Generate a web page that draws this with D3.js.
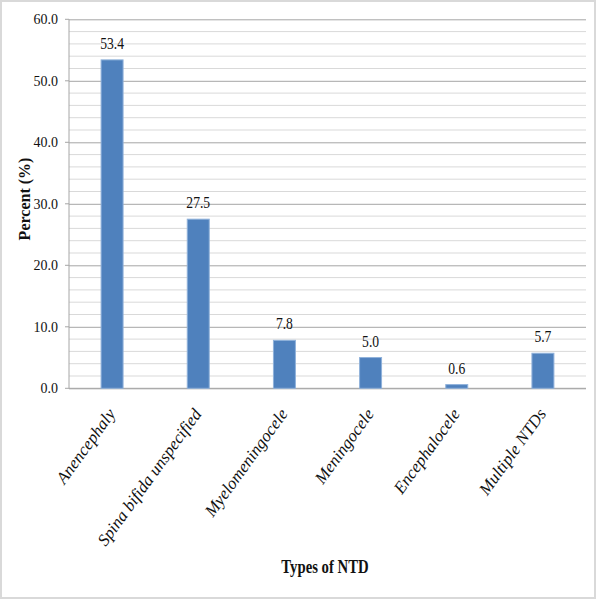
<!DOCTYPE html>
<html>
<head>
<meta charset="utf-8">
<script src="https://cdn.jsdelivr.net/npm/d3@7"></script>
<style>
  body { margin: 0; background: #fff; }
</style>
</head>
<body>
<svg id="chart" width="600" height="600"></svg>
<script>
// chart data
var categories = ["Anencephaly", "Spina bifida unspecified", "Myelomeningocele",
  "Meningocele", "Encephalocele", "Multiple NTDs"];
var percents = [53.4, 27.5, 7.8, 5.0, 0.6, 5.7];
var majorTicks = [0, 10, 20, 30, 40, 50, 60];
var minorTicks = [2, 4, 6, 8, 12, 14, 16, 18, 22, 24, 26, 28, 32, 34, 36, 38, 42, 44, 46, 48, 52, 54, 56, 58];

var FONT = "'Liberation Serif'";
var svg = d3.select("#chart");
var plot = { left: 69, right: 586, top: 19.3, bottom: 388.3 };

var x = d3.scaleBand()
  .domain(categories)
  .range([plot.left, plot.right])
  .paddingInner(0.745)
  .paddingOuter(0.3725);

var y = d3.scaleLinear()
  .domain([0, 60])
  .range([plot.bottom, plot.top]);

// outer frame
svg.append("rect")
  .attr("x", 1).attr("y", 1)
  .attr("width", 594).attr("height", 597)
  .attr("fill", "none")
  .attr("stroke", "#d9d9d9")
  .attr("stroke-width", 2);

// minor grid
svg.append("g").selectAll("line")
  .data(minorTicks)
  .enter()
  .append("line")
  .attr("x1", plot.left).attr("x2", plot.right)
  .attr("y1", function (d) { return y(d); })
  .attr("y2", function (d) { return y(d); })
  .attr("stroke", "#d9d9d9")
  .attr("stroke-width", 1);

// y axis with major grid
var yAxis = d3.axisLeft(y)
  .tickValues(majorTicks)
  .tickSize(-(plot.right - plot.left))
  .tickPadding(11)
  .tickFormat(d3.format(".1f"));

var yg = svg.append("g")
  .attr("transform", "translate(" + plot.left + ",0)")
  .call(yAxis);
yg.attr("font-family", null);
yg.select(".domain").remove();
yg.selectAll(".tick line").attr("stroke", "#a6a6a6");
yg.selectAll(".tick text")
  .style("font-family", FONT)
  .style("font-size", "14px")
  .style("fill", "#111");

// small outside ticks
svg.append("g").selectAll("line")
  .data(majorTicks)
  .enter()
  .append("line")
  .attr("x1", plot.left - 4).attr("x2", plot.left)
  .attr("y1", function (d) { return y(d); })
  .attr("y2", function (d) { return y(d); })
  .attr("stroke", "#a6a6a6");

// axis lines
svg.append("line")
  .attr("x1", plot.left).attr("x2", plot.left)
  .attr("y1", plot.top).attr("y2", plot.bottom)
  .attr("stroke", "#a6a6a6");
svg.append("line")
  .attr("x1", plot.left).attr("x2", plot.right)
  .attr("y1", plot.bottom).attr("y2", plot.bottom)
  .attr("stroke", "#a6a6a6");

// bars
svg.append("g").selectAll("rect")
  .data(percents)
  .enter()
  .append("rect")
  .attr("x", function (d, i) { return x(categories[i]); })
  .attr("y", function (d) { return y(d); })
  .attr("width", x.bandwidth())
  .attr("height", function (d) { return y(0) - y(d); })
  .attr("fill", "#4f81bd")
  .attr("stroke", "#8fb1da")
  .attr("stroke-width", 1);

// value labels
svg.append("g").selectAll("text")
  .data(percents)
  .enter()
  .append("text")
  .attr("transform", function (d, i) {
    var cx = x(categories[i]) + x.bandwidth() / 2;
    return "translate(" + cx + "," + (y(d) - 11) + ") scale(0.85,1)";
  })
  .attr("text-anchor", "middle")
  .style("font-family", FONT)
  .style("font-size", "16px")
  .style("fill", "#111")
  .text(function (d) { return d.toFixed(1); });

// category labels
svg.append("g").selectAll("text")
  .data(categories)
  .enter()
  .append("text")
  .attr("transform", function (d) {
    var cx = x(d) + x.bandwidth() / 2 + 4;
    return "translate(" + cx + ",414) rotate(-54)";
  })
  .attr("text-anchor", "end")
  .style("font-family", FONT)
  .style("font-size", "17px")
  .style("font-style", "italic")
  .style("fill", "#111")
  .text(function (d) { return d; });

// axis titles
svg.append("text")
  .attr("transform", "translate(30,199) rotate(-90)")
  .attr("text-anchor", "middle")
  .style("font-family", FONT)
  .style("font-size", "16px")
  .style("font-weight", "bold")
  .style("fill", "#111")
  .text("Percent (%)");

svg.append("text")
  .attr("transform", "translate(325,573) scale(0.82,1)")
  .attr("text-anchor", "middle")
  .style("font-family", FONT)
  .style("font-size", "18px")
  .style("font-weight", "bold")
  .style("fill", "#111")
  .text("Types of NTD");
</script>
</body>
</html>
